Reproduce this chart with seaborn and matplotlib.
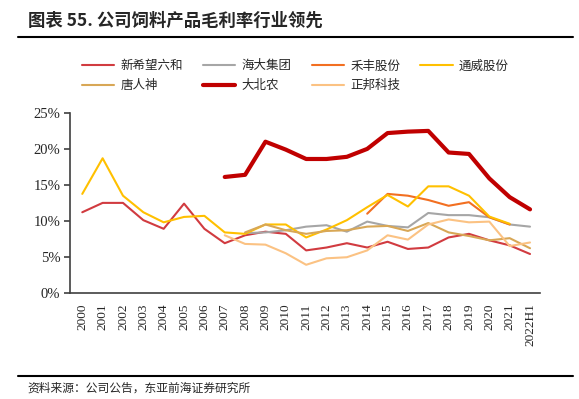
import numpy as np
import pandas as pd
import seaborn as sns
import matplotlib.pyplot as plt
from matplotlib.lines import Line2D

sns.set_style("white")
plt.rcParams['font.family'] = ['Noto Sans CJK SC', 'DejaVu Sans']

# x categories
years = [str(y) for y in range(2000, 2022)] + ["2022H1"]
nan = np.nan

# gross margin of feed products (%)
xinxiwang = [11.2, 12.5, 12.5, 10.1, 8.9, 12.4, 8.9, 6.9, 8.0, 8.5, 8.2, 5.9, 6.3, 6.9, 6.3, 7.1, 6.1, 6.3, 7.7, 8.2, 7.3, 6.6, 5.4]
haida = [nan] * 8 + [8.3, 8.4, 8.7, 9.2, 9.4, 8.5, 9.9, 9.3, 9.1, 11.1, 10.8, 10.8, 10.5, 9.5, 9.2]
hefeng = [nan] * 14 + [11.0, 13.75, 13.5, 12.9, 12.1, 12.6, 10.5, 9.5, nan]
tongwei = [13.75, 18.7, 13.5, 11.2, 9.8, 10.55, 10.7, 8.4, 8.2, 9.5, 9.5, 7.7, 8.8, 10.1, 11.9, 13.6, 12.0, 14.8, 14.8, 13.5, 10.6, 9.6, nan]
tangrenshen = [nan] * 8 + [8.4, 9.5, 8.7, 8.2, 8.6, 8.7, 9.2, 9.3, 8.6, 9.7, 8.4, 7.9, 7.3, 7.6, 6.2]
dabeinong = [nan] * 7 + [16.1, 16.4, 21.0, 19.9, 18.6, 18.6, 18.9, 20.0, 22.2, 22.4, 22.5, 19.5, 19.3, 15.9, 13.3, 11.6]
zhengbang = [nan] * 7 + [8.0, 6.8, 6.7, 5.5, 3.9, 4.8, 4.95, 5.9, 8.0, 7.4, 9.5, 10.2, 9.8, 9.9, 6.5, 7.0]

series = [
    ("新希望六和", xinxiwang, "#d13b40", 1.5),
    ("海大集团", haida, "#a6a6a6", 1.5),
    ("禾丰股份", hefeng, "#f26f21", 1.5),
    ("通威股份", tongwei, "#ffc000", 1.5),
    ("唐人神", tangrenshen, "#d8a756", 1.5),
    ("大北农", dabeinong, "#c00000", 3.0),
    ("正邦科技", zhengbang, "#fbc283", 1.5),
]

fig = plt.figure(figsize=(5.79, 3.99), dpi=100)
ax = fig.add_axes([0.121, 0.266, 0.812, 0.451])

xpos = np.arange(len(years))
handles = {}
for name, vals, color, lw in series:
    d = pd.DataFrame({"x": xpos, "y": np.array(vals) / 100})
    sns.lineplot(data=d, x="x", y="y", color=color, linewidth=lw, ax=ax)
    handles[name] = Line2D([], [], color=color, linewidth=lw)

ax.set_xlim(-0.6, 22.5)
ax.set_ylim(0, 0.25)
ax.set_yticks(np.arange(0, 0.26, 0.05))
ax.set_yticklabels([f"{int(round(v * 100))}%" for v in np.arange(0, 0.26, 0.05)],
                   family="Liberation Serif", fontsize=10.5)
ax.set_xticks(xpos)
ax.set_xticklabels(years, rotation=90, family="Liberation Serif", fontsize=9.5)
ax.set_xlabel("")
ax.set_ylabel("")
for s in ["top", "right"]:
    ax.spines[s].set_visible(False)
for s in ["left", "bottom"]:
    ax.spines[s].set_color("#404040")
    ax.spines[s].set_linewidth(1.2)
ax.tick_params(axis="y", left=True, length=4, width=1.2, color="#404040", pad=3)
ax.tick_params(axis="x", bottom=False, pad=4)

# legend laid out row by row, 4 per row
order = ["新希望六和", "唐人神", "海大集团", "大北农", "禾丰股份", "正邦科技", "通威股份"]
fig.legend([handles[n] for n in order], order, ncol=4, frameon=False,
           loc="center", bbox_to_anchor=(0.51, 0.810), fontsize=9,
           handlelength=2.6, columnspacing=1.6, handletextpad=0.5, labelspacing=0.55)

# title and source
fig.text(0.048, 0.948, "图表 55. 公司饲料产品毛利率行业领先", fontsize=12.5,
         fontweight="bold", va="center", ha="left")
fig.add_artist(Line2D([0.031, 0.99], [0.908, 0.908], color="black", linewidth=1.5))
fig.add_artist(Line2D([0.031, 0.99], [0.058, 0.058], color="black", linewidth=1.5))
fig.text(0.048, 0.028, "资料来源：公司公告，东亚前海证券研究所", fontsize=8.5,
         va="center", ha="left")

fig.savefig("out.png", dpi=100)
